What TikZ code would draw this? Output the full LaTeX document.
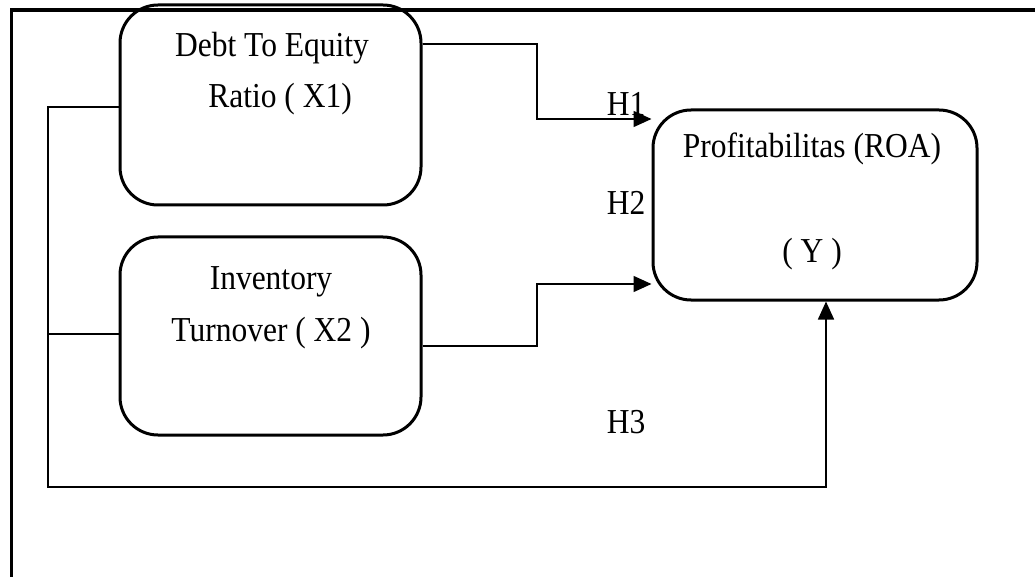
\documentclass[tikz,border=0pt]{standalone}
\usepackage{fontspec}
\setmainfont{Liberation Serif}[FakeStretch=0.9]
\usetikzlibrary{arrows.meta}
\begin{document}
\begin{tikzpicture}[x=1pt,y=-1pt,
  box/.style={draw,line width=3pt,rounded corners=38pt,inner sep=0pt},
  lbl/.style={anchor=base,inner sep=0pt,font=\fontsize{35}{42}\selectfont},
  conn/.style={line width=1.5pt},
  arr/.style={conn,-{Triangle[length=18pt,width=16pt]}}]
\useasboundingbox (0,0) rectangle (1035,577);
\draw[line width=3.5pt] (11.5,577) -- (11.5,10) -- (1035,10);
% boxes
\node[box,minimum width=301pt,minimum height=200pt] (b1) at (270.5,105) {};
\node[box,minimum width=301pt,minimum height=198pt] (b2) at (270.5,336) {};
\node[box,minimum width=324pt,minimum height=190pt] (b3) at (815,205) {};
% junction coordinates
\coordinate (j1) at (537,44);
\coordinate (k1) at (537,119);
\coordinate (j2) at (537,346);
\coordinate (k2) at (537,284);
\coordinate (l1) at (48,107);
\coordinate (l2) at (48,334);
\coordinate (l3) at (48,487);
\coordinate (l4) at (826,487);
% connectors
\draw[arr] (b1.east |- j1) -- (j1) -- (k1) -- (k1 -| b3.west);
\draw[arr] (b2.east |- j2) -- (j2) -- (k2) -- (k2 -| b3.west);
\draw[arr] (b1.west |- l1) -- (l1) -- (l3) -- (l4) -- (l4 |- b3.south);
\draw[conn] (b2.west |- l2) -- (l2);
% texts
\node[lbl] (t1a) at (272,57) {Debt To Equity};
\node[lbl] (t1b) at (280,108) {Ratio ( X1)};
\node[lbl] (t2a) at (271,289) {Inventory};
\node[lbl] (t2b) at (271,341) {Turnover ( X2 )};
\node[lbl] (t3a) at (812,158) {Profitabilitas (ROA)};
\node[lbl] (t3b) at (812,262) {( Y )};
\node[lbl] (h1l) at (626,116) {H1};
\node[lbl] (h2l) at (626,215) {H2};
\node[lbl] (h3l) at (626,433) {H3};
\end{tikzpicture}
\end{document}
